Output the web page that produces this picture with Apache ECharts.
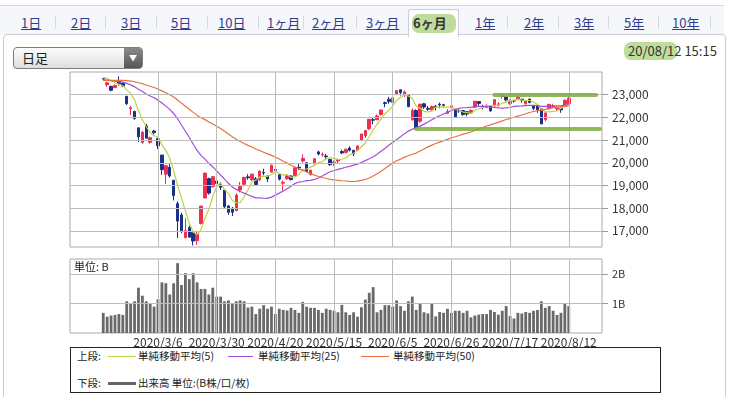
<!DOCTYPE html>
<html>
<head>
<meta charset="utf-8">
<title>日経平均 6ヶ月 日足</title>
<script src="https://cdn.jsdelivr.net/npm/echarts@6/dist/echarts.min.js"></script>
<style>
body{margin:0;width:741px;height:397px;overflow:hidden;background:#fff;position:relative;
	font-family:"Noto Sans CJK JP","Noto Sans",sans-serif;color:#333}
#tabbar{position:absolute;left:0;top:5px;width:724px;height:29px;border-top:1px solid #d3d6dc;background:#f6f7fa}
#panel{position:absolute;left:3px;top:34px;width:721px;height:380px;border:1px solid #c9cdd5;border-radius:4px 4px 0 0;background:#fff}
.tab{position:absolute;top:14px;font-size:13px;line-height:17px;color:#2d4090;text-decoration:underline;white-space:nowrap}
.sep{position:absolute;top:16px;width:1px;height:13px;background:#d6d9df}
#active{position:absolute;left:408px;top:9px;width:49px;height:27px;background:#fff;border:1px solid #c9cdd5;border-bottom:none;border-radius:3px 3px 0 0}
#active .mark{position:absolute;left:3px;top:4px;width:44px;height:19px;border-radius:7px;background:rgba(150,196,92,0.6)}
#active span{position:absolute;left:4px;top:4px;font-size:13px;line-height:17px;font-weight:bold;color:#333;white-space:nowrap}
#select{position:absolute;left:13px;top:47px;width:128px;height:20px;border:1px solid #7d7d7d;border-radius:4px;
	background:linear-gradient(#fdfdfd,#dedede)}
#select .txt{position:absolute;left:8px;top:1px;font-size:13px;line-height:18px;color:#222}
#select .btn{position:absolute;right:0;top:0;width:18px;height:20px;border-radius:0 3px 3px 0;background:linear-gradient(#8a8a8a,#555);
	color:#fff;font-size:8px;line-height:20px;text-align:center}
#stamp{position:absolute;left:628px;top:42px;font-size:13px;line-height:17px;color:#333;white-space:nowrap}
#stampMark{position:absolute;left:624px;top:42px;width:53px;height:18px;border-radius:7px;background:rgba(150,196,92,0.6)}
#unit{position:absolute;left:74px;top:259px;font-size:11px;line-height:14px;color:#222;z-index:2}
#chart{position:absolute;left:0;top:0;width:741px;height:397px;z-index:1}
#legend{position:absolute;left:70px;top:347px;width:589px;height:44px;border:1px solid #222;background:#fff;z-index:2;font-size:10.5px;line-height:14px;color:#222}
#legend span{position:absolute;white-space:nowrap}
#legend i{position:absolute;display:block}
</style>
</head>
<body>
<div id="tabbar"></div>
<div id="panel"></div>
<span class="tab" style="left:21px">1日</span>
<div class="sep" style="left:55px"></div>
<span class="tab" style="left:71px">2日</span>
<div class="sep" style="left:105px"></div>
<span class="tab" style="left:121px">3日</span>
<div class="sep" style="left:156px"></div>
<span class="tab" style="left:171px">5日</span>
<div class="sep" style="left:207px"></div>
<span class="tab" style="left:218px">10日</span>
<div class="sep" style="left:258px"></div>
<span class="tab" style="left:267px">1ヶ月</span>
<div class="sep" style="left:303px"></div>
<span class="tab" style="left:312px">2ヶ月</span>
<div class="sep" style="left:356px"></div>
<span class="tab" style="left:366px">3ヶ月</span>
<div id="active"><div class="mark"></div><span>6ヶ月</span></div>
<span class="tab" style="left:475px">1年</span>
<div class="sep" style="left:507px"></div>
<span class="tab" style="left:524px">2年</span>
<div class="sep" style="left:558px"></div>
<span class="tab" style="left:574px">3年</span>
<div class="sep" style="left:608px"></div>
<span class="tab" style="left:624px">5年</span>
<div class="sep" style="left:658px"></div>
<span class="tab" style="left:672px">10年</span>
<div class="sep" style="left:710px"></div>

<div id="select"><span class="txt">日足</span><div class="btn">▼</div></div>
<div id="stampMark"></div>
<span id="stamp">20/08/12 15:15</span>

<div id="chart"></div>
<span id="unit">単位: B</span>

<div id="legend">
	<span style="left:6px;top:1px">上段:</span>
	<i style="left:37px;top:8px;width:28px;height:1px;background:#bcd43f"></i>
	<span style="left:67px;top:1px">単純移動平均(5)</span>
	<i style="left:157px;top:8px;width:25px;height:1px;background:#a24fd9"></i>
	<span style="left:187px;top:1px">単純移動平均(25)</span>
	<i style="left:290px;top:8px;width:28px;height:1px;background:#e8703f"></i>
	<span style="left:322px;top:1px">単純移動平均(50)</span>
	<span style="left:6px;top:28px">下段:</span>
	<i style="left:37px;top:34px;width:28px;height:3px;background:#666"></i>
	<span style="left:67px;top:28px">出来高 単位:(B株/口/枚)</span>
</div>

<script>
/* trading days shown on the chart */
var dates = ['2020/2/14','2020/2/17','2020/2/18','2020/2/19','2020/2/20','2020/2/21','2020/2/25','2020/2/26','2020/2/27','2020/2/28',
	'2020/3/2','2020/3/3','2020/3/4','2020/3/5','2020/3/6','2020/3/9','2020/3/10','2020/3/11','2020/3/12','2020/3/13',
	'2020/3/16','2020/3/17','2020/3/18','2020/3/19','2020/3/23','2020/3/24','2020/3/25','2020/3/26','2020/3/27','2020/3/30',
	'2020/3/31','2020/4/1','2020/4/2','2020/4/3','2020/4/6','2020/4/7','2020/4/8','2020/4/9','2020/4/10','2020/4/13',
	'2020/4/14','2020/4/15','2020/4/16','2020/4/17','2020/4/20','2020/4/21','2020/4/22','2020/4/23','2020/4/24','2020/4/27',
	'2020/4/28','2020/4/30','2020/5/1','2020/5/7','2020/5/8','2020/5/11','2020/5/12','2020/5/13','2020/5/14','2020/5/15',
	'2020/5/18','2020/5/19','2020/5/20','2020/5/21','2020/5/22','2020/5/25','2020/5/26','2020/5/27','2020/5/28','2020/5/29',
	'2020/6/1','2020/6/2','2020/6/3','2020/6/4','2020/6/5','2020/6/8','2020/6/9','2020/6/10','2020/6/11','2020/6/12',
	'2020/6/15','2020/6/16','2020/6/17','2020/6/18','2020/6/19','2020/6/22','2020/6/23','2020/6/24','2020/6/25','2020/6/26',
	'2020/6/29','2020/6/30','2020/7/1','2020/7/2','2020/7/3','2020/7/6','2020/7/7','2020/7/8','2020/7/9','2020/7/10',
	'2020/7/13','2020/7/14','2020/7/15','2020/7/16','2020/7/17','2020/7/20','2020/7/21','2020/7/22','2020/7/27','2020/7/28',
	'2020/7/29','2020/7/30','2020/7/31','2020/8/3','2020/8/4','2020/8/5','2020/8/6','2020/8/7','2020/8/11','2020/8/12'];

var opens = [23700,23440,23370,23310,23580,23500,22930,22380,22260,21540,
	20900,21620,20900,21400,21060,20340,19500,19800,19230,18200,
	17700,16700,17150,16940,16570,17330,18450,19300,18950,19200,
	19050,18800,18100,18000,17900,18800,19050,19380,19250,19300,
	19250,19580,19420,19590,19700,19470,19100,19300,19420,19440,
	19800,20080,20000,19470,19960,20480,20350,20300,20150,20010,
	20080,20500,20460,20650,20550,20550,21000,21190,21500,21900,
	21900,22130,22650,22800,22650,23000,23220,22980,23000,21900,
	22300,21830,22600,22400,22330,22500,22580,22560,22180,22420,
	22300,22300,22300,22250,22200,22450,22700,22450,22450,22500,
	22500,22580,22920,22900,22600,22750,22780,22800,22600,22800,
	22520,22500,22380,21900,22380,22450,22370,22400,22500,22600];

var closes = [23687,23523,23193,23400,23479,23386,22605,22426,21948,21142,
	21344,21082,21100,21329,20749,19698,19867,19416,18559,17431,
	17002,17011,16726,16552,16887,18092,19546,18665,19389,19084,
	18917,18065,17818,17820,18576,18950,19353,19345,19498,19043,
	19638,19550,19290,19897,19669,19280,19137,19429,19262,19783,
	19771,20193,19619,19674,20179,20390,20366,20267,19914,20037,
	20133,20433,20595,20552,20388,20741,21271,21419,21916,21877,
	22062,22325,22613,22695,22863,23178,23091,23124,22472,22305,
	21530,22582,22455,22355,22478,22437,22549,22534,22259,22512,
	21995,22288,22121,22145,22306,22714,22614,22438,22529,22290,
	22784,22587,22945,22770,22696,22717,22884,22751,22715,22657,
	22397,22339,21710,22195,22573,22514,22418,22329,22750,22843];

var lows = [23620,23340,23150,23290,23400,23350,22550,22100,21900,20920,
	20830,21080,20840,21220,20610,19470,19060,19350,18340,16690,
	16900,16700,16700,16358,16380,17280,18450,18600,18900,18800,
	18800,17970,17710,17650,17860,18700,18960,19250,19200,18990,
	19200,19450,19150,19580,19600,19220,18780,19250,19220,19430,
	19680,20010,19600,19450,19930,20330,20280,20140,19870,19850,
	19990,20380,20400,20500,20290,20530,20950,21100,21440,21700,
	21880,22080,22450,22600,22600,22990,22960,22900,22450,21850,
	21510,21760,22380,22300,22300,22300,22400,22430,22150,22400,
	21980,22200,22080,22050,22150,22430,22510,22350,22400,22250,
	22480,22460,22820,22700,22560,22650,22770,22650,22560,22620,
	22320,22200,21710,21830,22350,22400,22300,22200,22460,22580];

var highs = [23720,23560,23390,23460,23810,23540,22950,22510,22300,21550,
	21400,21720,21150,21450,21090,20350,19900,19970,19240,18300,
	17800,17560,17230,17000,17000,18100,19560,19350,19390,19250,
	19150,18800,18120,18050,18650,19160,19390,19500,19520,19370,
	19640,19740,19450,19920,19780,19490,19220,19470,19440,19820,
	19950,20370,20030,19700,20180,20530,20460,20400,20150,20100,
	20180,20580,20620,20720,20570,20760,21280,21450,21920,22000,
	22130,22340,22700,22900,22900,23200,23220,23185,23020,22400,
	22360,22600,22640,22500,22520,22550,22650,22600,22360,22600,
	22300,22400,22320,22280,22360,22720,22710,22560,22580,22520,
	22800,22670,23010,22930,22800,22780,22960,22820,22760,22830,
	22530,22500,22380,22240,22600,22600,22500,22420,22800,22900];

/* closes of the sessions before the first candle, needed by the moving averages */
var closesBefore = [23409,23293,23529,23379,23135,23300,23354,23430,23410,23391,
	23424,24023,23952,24066,23934,23864,23816,23821,23830,23782,
	23924,23837,23656,23204,23575,23204,23739,23850,24025,23916,
	23933,24041,24083,23865,24031,23795,23827,23343,23215,23379,
	22977,23205,22971,23084,23320,23873,23827,23686,23861,23828];

/* volume, billions of shares */
var volumes = [0.68,0.55,0.59,0.61,0.64,0.61,1.07,1.00,1.07,1.53,
	1.26,1.07,0.99,0.89,1.14,1.71,1.68,1.30,1.68,2.36,
	1.62,2.02,1.82,2.02,1.71,1.49,1.49,1.30,1.53,1.23,
	1.23,1.07,1.10,0.99,1.07,1.10,1.07,0.86,0.89,0.64,
	0.82,0.94,0.82,0.89,0.64,0.82,0.78,0.76,0.85,0.78,
	0.68,1.05,0.89,0.85,0.85,0.78,0.68,0.82,0.78,0.75,
	0.70,0.95,0.70,0.61,0.70,0.55,0.87,1.13,1.36,1.55,
	0.70,0.78,0.94,0.94,0.89,1.10,0.91,0.75,1.07,1.23,
	0.78,0.99,0.70,0.66,0.99,0.56,0.71,0.68,0.82,0.68,
	0.75,0.75,0.68,0.75,0.53,0.59,0.62,0.64,0.64,0.78,
	0.71,0.62,0.75,0.91,0.57,0.49,0.68,0.66,0.71,0.68,
	0.75,0.78,1.07,0.85,0.91,0.75,0.61,0.68,0.99,0.91];

var labelDates = ['2020/3/6','2020/3/30','2020/4/20','2020/5/15','2020/6/5','2020/6/26','2020/7/17','2020/8/12'];
var priceTicks = [17000,18000,19000,20000,21000,22000,23000];
var volumeTicks = [1,2];
var maPeriods = [5,25,50];
/* hand-drawn range marks: [first day index, last day index, price] */
var rangeMarks = [[100, 126, 23000], [80, 127, 21500]];

var maColors = ['#bcd43f','#a24fd9','#e8703f'];
var upColor = '#ee2f4e';
var downColor = '#1d2f86';
var gridColor = '#bdbdbd';
var markColor = 'rgba(128,172,62,0.85)';
var font = '"Noto Sans CJK JP", "Noto Sans", sans-serif';
var pad = 8;

// categories: empty slots on both sides like the original chart
var categories = [];
for (var p = 1; p <= pad; p++) categories.push('L' + p);
dates.forEach(function(d){ categories.push(d); });
for (var q = 1; q <= pad; q++) categories.push('R' + q);

function sma(n){
	var all = closesBefore.concat(closes);
	var res = [];
	for (var i = 0; i < closes.length; i++){
		var end = closesBefore.length + i;
		var s = 0;
		for (var k = end - n + 1; k <= end; k++) s += all[k];
		res.push([pad + i, Math.round(s / n)]);
	}
	return res;
}

var candleData = dates.map(function(d, i){ return [pad + i, opens[i], closes[i], lows[i], highs[i]]; });
var volumeData = volumes.map(function(v, i){ return [pad + i, v]; });

function gridLines(values, axisKey){
	return values.map(function(v){ var o = {}; o[axisKey] = v; return o; });
}

var dom = document.getElementById('chart');
var myChart = echarts.init(dom, null, {renderer: 'canvas'});

var option = {
	animation: false,
	backgroundColor: 'transparent',
	grid: [
		{left: 70, top: 72, width: 532, height: 175, show: true, borderColor: '#a9a9a9', borderWidth: 1},
		{left: 70, top: 259, width: 532, height: 74, show: true, borderColor: '#a9a9a9', borderWidth: 1}
	],
	xAxis: [
		{
			type: 'category', gridIndex: 0, data: categories, boundaryGap: true,
			axisLine: {show: false}, axisTick: {show: false}, axisLabel: {show: false}, splitLine: {show: false}
		},
		{
			type: 'category', gridIndex: 1, data: categories, boundaryGap: true,
			axisLine: {show: false}, axisTick: {show: false}, splitLine: {show: false},
			axisLabel: {
				show: true, color: '#333', fontSize: 12, fontFamily: font, margin: 3,
				interval: function(index, value){ return labelDates.indexOf(value) >= 0; },
				formatter: function(value){ return labelDates.indexOf(value) >= 0 ? value : ''; }
			}
		}
	],
	yAxis: [
		{
			type: 'value', gridIndex: 0, position: 'right', min: 16290, max: 24000,
			axisLine: {show: false},
			axisTick: {show: true, customValues: priceTicks, length: 6, lineStyle: {color: '#999'}},
			axisLabel: {
				customValues: priceTicks, color: '#333', fontSize: 12, fontFamily: font, margin: 10,
				formatter: function(v){ return v.toLocaleString('en-US'); }
			},
			splitLine: {show: false}
		},
		{
			type: 'value', gridIndex: 1, position: 'right', min: 0, max: 2.5, interval: 1,
			axisLine: {show: false},
			axisTick: {show: true, customValues: volumeTicks, length: 6, lineStyle: {color: '#999'}},
			axisLabel: {
				customValues: volumeTicks, color: '#333', fontSize: 11, fontFamily: font, margin: 10,
				formatter: function(v){ return v + 'B'; }
			},
			splitLine: {show: false}
		}
	],
	series: [
		{
			// grid lines of the price panel
			type: 'line', xAxisIndex: 0, yAxisIndex: 0, data: [], z: 1, silent: true,
			markLine: {
				silent: true, symbol: 'none', animation: false, label: {show: false},
				lineStyle: {color: gridColor, width: 1, type: 'solid'},
				data: gridLines(labelDates, 'xAxis').concat(gridLines(priceTicks, 'yAxis'))
			}
		},
		{
			// grid lines of the volume panel
			type: 'line', xAxisIndex: 1, yAxisIndex: 1, data: [], z: 1, silent: true,
			markLine: {
				silent: true, symbol: 'none', animation: false, label: {show: false},
				lineStyle: {color: gridColor, width: 1, type: 'solid'},
				data: gridLines(labelDates, 'xAxis').concat(gridLines(volumeTicks, 'yAxis'))
			}
		},
		{
			name: '日足', type: 'candlestick', xAxisIndex: 0, yAxisIndex: 0,
			data: candleData, encode: {x: 0, y: [1, 2, 3, 4]}, barWidth: 3,
			itemStyle: {color: upColor, color0: downColor, borderColor: upColor, borderColor0: downColor, borderWidth: 1}
		},
		{
			name: '単純移動平均(5)', type: 'line', xAxisIndex: 0, yAxisIndex: 0, data: sma(maPeriods[0]),
			showSymbol: false, lineStyle: {color: maColors[0], width: 1.2}
		},
		{
			name: '単純移動平均(25)', type: 'line', xAxisIndex: 0, yAxisIndex: 0, data: sma(maPeriods[1]),
			showSymbol: false, lineStyle: {color: maColors[1], width: 1.2}
		},
		{
			name: '単純移動平均(50)', type: 'line', xAxisIndex: 0, yAxisIndex: 0, data: sma(maPeriods[2]),
			showSymbol: false, lineStyle: {color: maColors[2], width: 1.2}
		},
		{
			// hand-drawn highlight of the range
			type: 'line', xAxisIndex: 0, yAxisIndex: 0, data: [], z: 5, silent: true,
			markLine: {
				silent: true, symbol: 'none', animation: false, label: {show: false},
				lineStyle: {color: markColor, width: 4, type: 'solid', cap: 'round'},
				data: rangeMarks.map(function(m){
					return [{coord: [pad + m[0], m[2]]}, {coord: [pad + m[1], m[2]]}];
				})
			}
		},
		{
			name: '出来高', type: 'bar', xAxisIndex: 1, yAxisIndex: 1,
			data: volumeData, encode: {x: 0, y: 1}, barWidth: '72%',
			itemStyle: {color: '#696969'}
		}
	]
};

if (option && typeof option === 'object') {
	myChart.setOption(option);
}
window.addEventListener('resize', myChart.resize);
</script>
</body>
</html>
